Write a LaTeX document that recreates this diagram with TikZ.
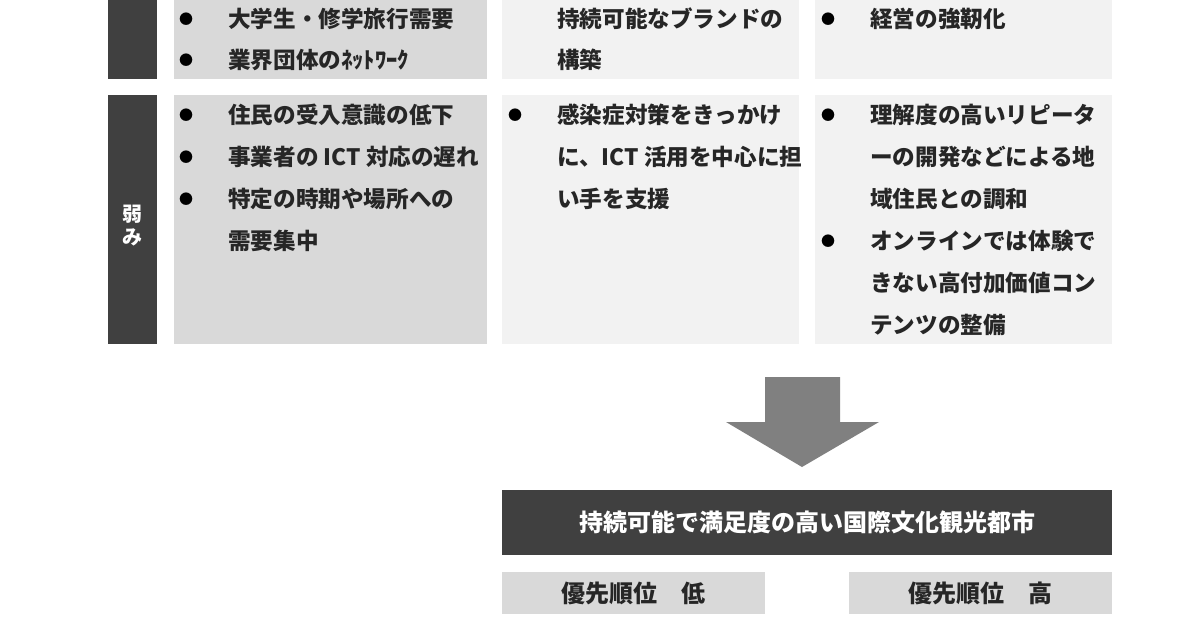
\documentclass[tikz,border=0pt]{standalone}
\usepackage{fontspec}
\setmainfont{Noto Sans CJK JP}
\begin{document}
\begin{tikzpicture}[x=1pt,y=-1pt,
  box/.style={anchor=north west,inner sep=0pt,outer sep=0pt,draw=none},
  dark/.style={box,fill=darkgray},
  mid/.style={box,fill=midgray},
  light/.style={box,fill=lightgray},
  txt/.style={anchor=west,inner sep=0pt,text=txtcol,font=\fontsize{22.6}{22.6}\selectfont\bfseries},
  bul/.style={anchor=center,inner sep=0pt,text=black,font=\fontsize{14}{14}\selectfont},
  btxt/.style={anchor=center,inner sep=0pt,font=\fontsize{24}{24}\selectfont\bfseries}
]
\definecolor{darkgray}{HTML}{404040}
\definecolor{midgray}{HTML}{D9D9D9}
\definecolor{lightgray}{HTML}{F2F2F2}
\definecolor{arrowgray}{HTML}{808080}
\definecolor{txtcol}{HTML}{262626}
\useasboundingbox (0,0) rectangle (1200,630);
\fill[white] (0,0) rectangle (1200,630);
% left bars
\node[dark,minimum width=49pt,minimum height=79pt] (bar1) at (108,0) {};
\node[dark,minimum width=49pt,minimum height=249pt] (bar2) at (108,95) {};
\node[anchor=center,inner sep=0pt,text=white,align=center,font=\fontsize{20}{23}\selectfont\bfseries] (weak) at (132.5,226) {弱\\み};
% column boxes
\node[mid,minimum width=313pt,minimum height=79pt] (c1a) at (174,0) {};
\node[mid,minimum width=313pt,minimum height=249pt] (c1b) at (174,95) {};
\node[light,minimum width=297pt,minimum height=79pt] (c2a) at (502,0) {};
\node[light,minimum width=297pt,minimum height=249pt] (c2b) at (502,95) {};
\node[light,minimum width=297pt,minimum height=79pt] (c3a) at (815,0) {};
\node[light,minimum width=297pt,minimum height=249pt] (c3b) at (815,95) {};
% top row text
\node[bul] (b1) at (186,19) {●};
\node[txt] (t1) at (228,19) {大学生・修学旅行需要};
\node[bul] (b2) at (186,60) {●};
\node[txt] (t2) at (228,60) {業界団体のﾈｯﾄﾜｰｸ};
\node[txt] (t3) at (557,19) {持続可能なブランドの};
\node[txt] (t4) at (557,60) {構築};
\node[bul] (b3) at (828,19) {●};
\node[txt] (t5) at (870,19) {経営の強靭化};
% bottom row col1
\node[bul] (b4) at (186,115) {●};
\node[txt] (u1) at (228,115) {住民の受入意識の低下};
\node[bul] (b5) at (186,157) {●};
\node[txt] (u2) at (228,157) {事業者の ICT 対応の遅れ};
\node[bul] (b6) at (186,199) {●};
\node[txt] (u3) at (228,199) {特定の時期や場所への};
\node[txt] (u4) at (228,241) {需要集中};
% bottom row col2
\node[bul] (b7) at (515,115) {●};
\node[txt] (v1) at (557,115) {感染症対策をきっかけ};
\node[txt] (v2) at (557,157) {に、ICT 活用を中心に担};
\node[txt] (v3) at (557,199) {い手を支援};
% bottom row col3
\node[bul] (b8) at (828,115) {●};
\node[txt] (w1) at (870,115) {理解度の高いリピータ};
\node[txt] (w2) at (870,157) {ーの開発などによる地};
\node[txt] (w3) at (870,199) {域住民との調和};
\node[bul] (b9) at (828,241) {●};
\node[txt] (w4) at (870,241) {オンラインでは体験で};
\node[txt] (w5) at (870,283) {きない高付加価値コン};
\node[txt] (w6) at (870,325) {テンツの整備};
% block arrow
\fill[arrowgray] (765,377) -- (840,377) -- (840,422) -- (879,422) -- (802,467) -- (726,422) -- (765,422) -- cycle;
% banner
\node[dark,minimum width=610pt,minimum height=65pt] (banner) at (502,490) {};
\node[btxt,text=white] (bannertxt) at (banner.center) {持続可能で満足度の高い国際文化観光都市};
% priority boxes
\node[mid,minimum width=263pt,minimum height=42pt] (plow) at (502,572) {};
\node[btxt,text=txtcol] (plowtxt) at (plow.center) {優先順位　低};
\node[mid,minimum width=263pt,minimum height=42pt] (phigh) at (849,572) {};
\node[btxt,text=txtcol] (phightxt) at (phigh.center) {優先順位　高};
\end{tikzpicture}
\end{document}
